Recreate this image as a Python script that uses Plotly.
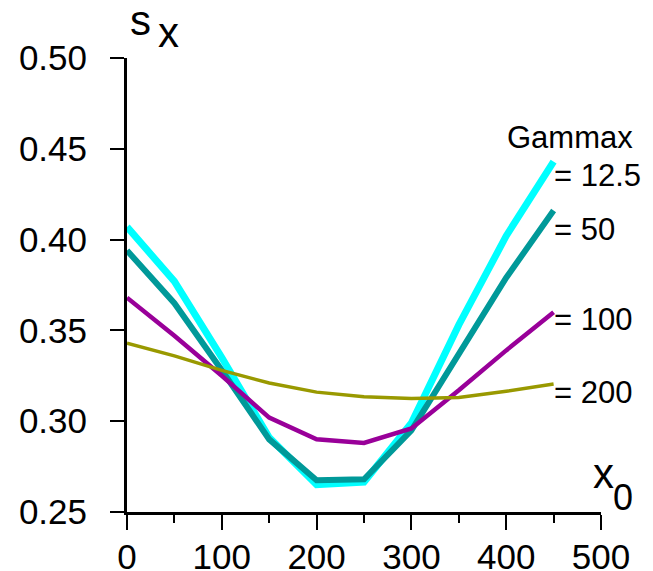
import plotly.graph_objects as go

x0 = [0, 50, 100, 150, 200, 250, 300, 350, 400, 450]
s_12_5 = [0.407, 0.377, 0.335, 0.291, 0.265, 0.2665, 0.299, 0.353, 0.402, 0.443]
s_50 = [0.394, 0.365, 0.328, 0.290, 0.2675, 0.268, 0.295, 0.337, 0.379, 0.416]
s_100 = [0.368, 0.347, 0.325, 0.302, 0.290, 0.288, 0.296, 0.317, 0.339, 0.360]
s_200 = [0.343, 0.336, 0.328, 0.321, 0.316, 0.3135, 0.3125, 0.313, 0.3165, 0.3205]

series = [
    ("= 12.5", s_12_5, "#00FFFF", 7),
    ("= 50", s_50, "#009999", 6),
    ("= 100", s_100, "#990099", 4.5),
    ("= 200", s_200, "#999900", 3.5),
]

FONT = "Liberation Sans, Arial, sans-serif"
L, R, T, B = 127, 52, 58, 59
W, H = 653, 571
PW, PH = W - L - R, H - T - B


def px(xp):
    return (xp - L) / PW


def py(yp):
    return (H - B - yp) / PH


fig = go.Figure()
for name, ys, col, lw in series:
    fig.add_trace(go.Scatter(x=x0, y=ys, mode="lines", name=name,
                             line=dict(color=col, width=lw), cliponaxis=False))

ann = []


def add(text, xp, yp, size, xanchor="left"):
    ann.append(dict(text=text, x=px(xp), y=py(yp), xref="paper", yref="paper",
                    xanchor=xanchor, yanchor="middle", showarrow=False,
                    font=dict(family=FONT, size=size, color="black")))


add("Gammax", 505, 137.5, 31)
label_y = {"= 12.5": 175, "= 50": 229, "= 100": 319.5, "= 200": 392}
for name, ys, col, lw in series:
    add(name, 551.5, label_y[name], 31)
add("s", 128, 21, 42)
add("x", 155.5, 33, 42)
add("x", 590.5, 473, 42)
add("0", 610.5, 497.5, 36)

fig.update_layout(
    width=W, height=H,
    margin=dict(l=L, r=R, t=T, b=B, autoexpand=False),
    plot_bgcolor="white", paper_bgcolor="white",
    showlegend=False,
    font=dict(family=FONT, size=35, color="black"),
    annotations=ann,
    xaxis=dict(range=[0, 500], tickmode="array", tickvals=[0, 100, 200, 300, 400, 500],
               ticks="outside", ticklen=15, tickwidth=2, tickcolor="black",
               showline=True, linewidth=3, linecolor="black", showgrid=False,
               zeroline=False, tickfont=dict(size=35), automargin=False,
               minor=dict(tickvals=[50, 150, 250, 350, 450], ticks="outside", ticklen=8,
                          tickwidth=2, tickcolor="black", showgrid=False),
               ticklabelstandoff=-3),
    yaxis=dict(range=[0.25, 0.5], tickmode="array",
               tickvals=[0.25, 0.30, 0.35, 0.40, 0.45, 0.50],
               ticktext=["0.25", "0.30", "0.35", "0.40", "0.45", "0.50"],
               ticks="outside", ticklen=14, tickwidth=2, tickcolor="black",
               showline=True, linewidth=3, linecolor="black", showgrid=False,
               zeroline=False, tickfont=dict(size=35), ticklabelstandoff=16,
               automargin=False),
)

fig.write_html("out.html", config={"displayModeBar": False},
               post_script="document.body.style.margin='0';document.body.style.padding='0';document.body.style.overflow='hidden';")
